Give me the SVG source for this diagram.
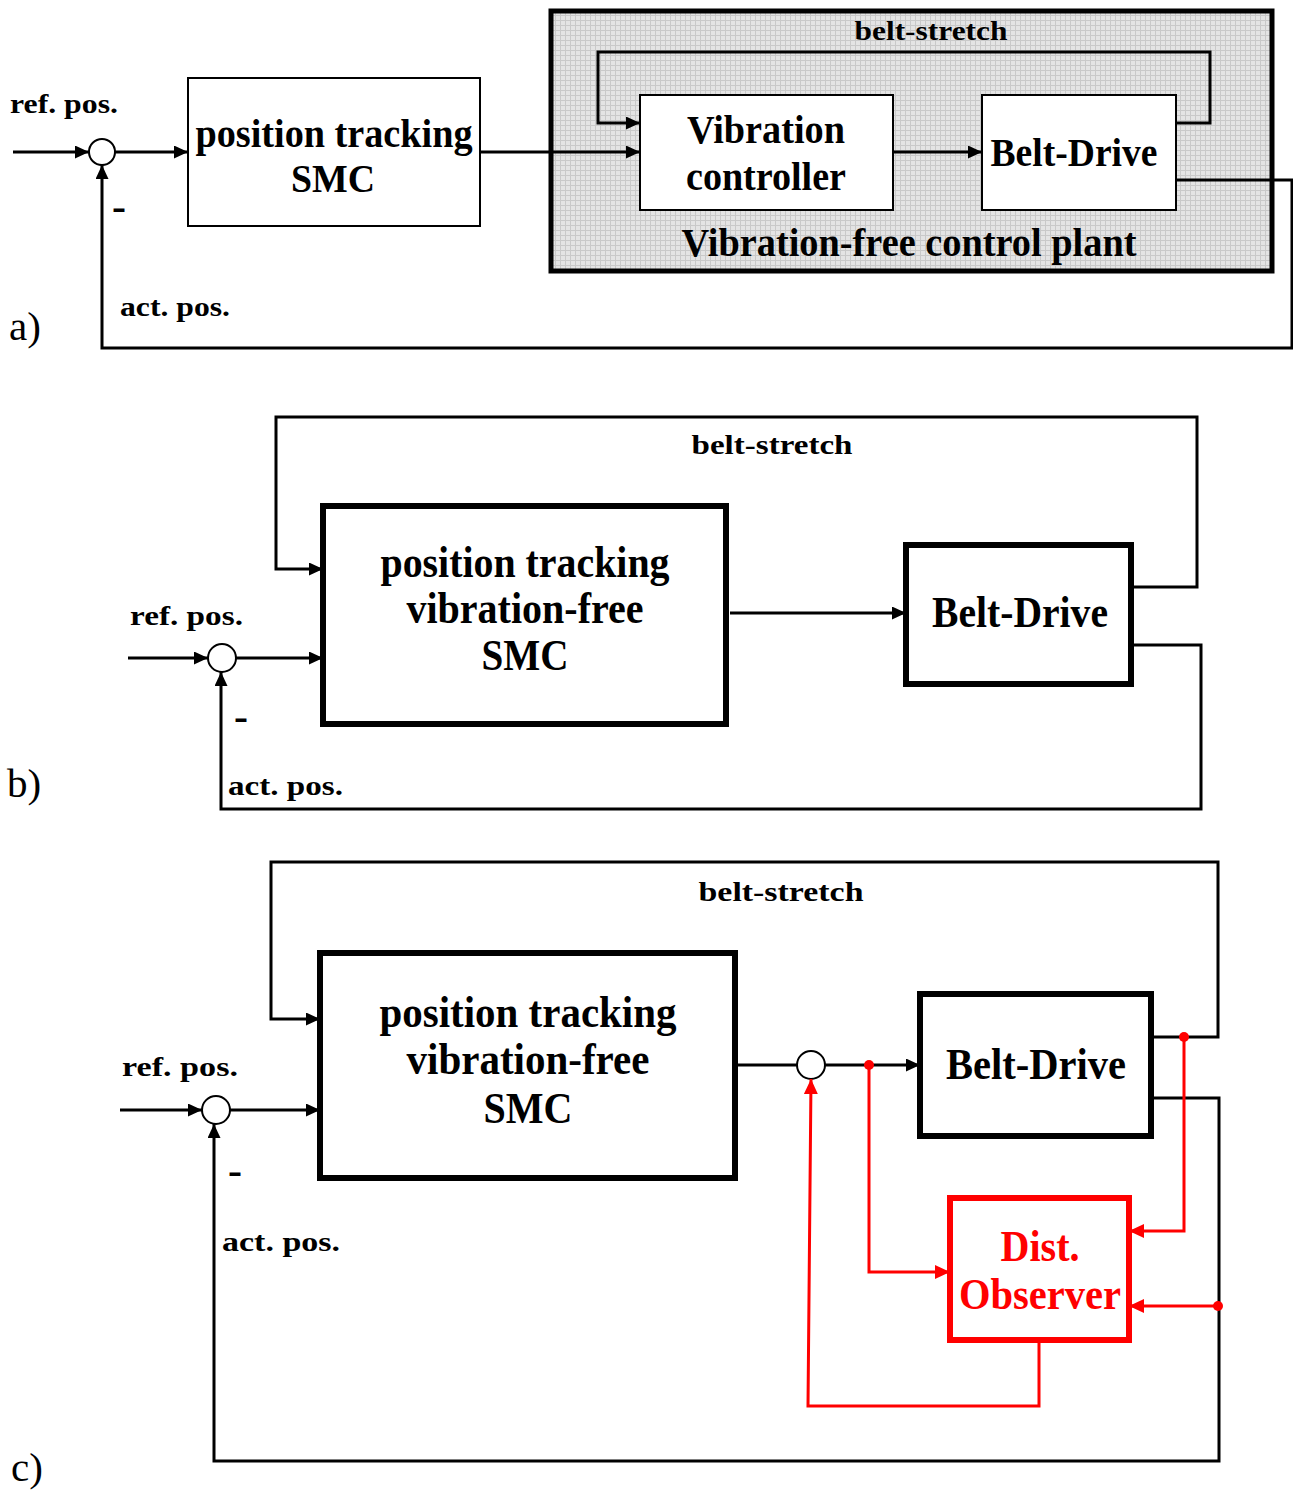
<svg xmlns="http://www.w3.org/2000/svg" width="1293" height="1490" viewBox="0 0 1293 1490">
<style>
text{font-weight:bold;fill:#000}
.lbl{font-size:28px}
.dash{font-size:42px}
.big{font-size:40px}
.big2{font-size:44px}
.mid{text-anchor:middle}
.tag{font-weight:normal;font-size:41px}
.red{fill:#ff0000}
.ln{fill:none;stroke:#000;stroke-width:3}
.rl{fill:none;stroke:#ff0000;stroke-width:3}
.box{fill:#fff;stroke:#000;stroke-width:2}
.tbox{fill:#fff;stroke:#000;stroke-width:6}
.rbox{fill:#fff;stroke:#ff0000;stroke-width:6}
.sum{fill:#fff;stroke:#000;stroke-width:2}
</style>
<defs>
<marker id="ah" markerUnits="userSpaceOnUse" markerWidth="14" markerHeight="13" refX="14" refY="6.5" orient="auto"><path d="M0,0 L14,6.5 L0,13 z" fill="#000"/></marker>
<marker id="rah" markerUnits="userSpaceOnUse" markerWidth="15" markerHeight="14" refX="15" refY="7" orient="auto"><path d="M0,0 L15,7 L0,14 z" fill="#ff0000"/></marker>
<pattern id="grid" width="5" height="5" patternUnits="userSpaceOnUse"><rect width="5" height="5" fill="#e4e4e4"/><path d="M0,0.5 H5 M0.5,0 V5" stroke="#c9c9c9" stroke-width="1"/></pattern>
</defs>

<!-- ===== a) ===== -->
<g id="a-plant"><rect x="551" y="11" width="721" height="260" fill="url(#grid)" stroke="#000" stroke-width="5"/>
<text font-family="Liberation Serif" class="big mid" x="909" y="256" textLength="455" lengthAdjust="spacingAndGlyphs">Vibration-free control plant</text></g>
<g id="a-smc"><rect class="box" x="188" y="78" width="292" height="148"/>
<text font-family="Liberation Serif" class="big mid" x="334" y="147" textLength="277" lengthAdjust="spacingAndGlyphs">position tracking</text>
<text font-family="Liberation Serif" class="big mid" x="333" y="192" textLength="84" lengthAdjust="spacingAndGlyphs">SMC</text></g>
<g id="a-vc"><rect class="box" x="640" y="95" width="253" height="115"/>
<text font-family="Liberation Serif" class="big mid" x="766" y="143" textLength="158" lengthAdjust="spacingAndGlyphs">Vibration</text>
<text font-family="Liberation Serif" class="big mid" x="766" y="190" textLength="160" lengthAdjust="spacingAndGlyphs">controller</text></g>
<g id="a-bd"><rect class="box" x="982" y="95" width="194" height="115"/>
<text font-family="Liberation Serif" class="big mid" x="1074" y="166" textLength="167" lengthAdjust="spacingAndGlyphs">Belt-Drive</text></g>
<g id="a-sum"><circle class="sum" cx="102" cy="152" r="13"/></g>
<g id="a-connectors">
<path class="ln" d="M13,152 H89" marker-end="url(#ah)"/>
<path class="ln" d="M115,152 H188" marker-end="url(#ah)"/>
<path class="ln" d="M480,152 H640" marker-end="url(#ah)"/>
<path class="ln" d="M893,152 H982" marker-end="url(#ah)"/>
<path class="ln" d="M1176,123 H1210 V52 H598 V123 H640" marker-end="url(#ah)"/>
<path class="ln" d="M1176,180 H1292 V348 H102 V165" marker-end="url(#ah)"/>
</g>
<g id="a-labels">
<text font-family="Liberation Serif" class="lbl" x="10" y="113" textLength="108" lengthAdjust="spacingAndGlyphs">ref. pos.</text>
<text font-family="Liberation Serif" class="lbl mid" x="931" y="40" textLength="153" lengthAdjust="spacingAndGlyphs">belt-stretch</text>
<text font-family="Liberation Serif" class="dash" x="112" y="220">-</text>
<text font-family="Liberation Serif" class="lbl" x="120" y="316" textLength="110" lengthAdjust="spacingAndGlyphs">act. pos.</text>
<text font-family="Liberation Serif" class="tag" x="9" y="340">a)</text>
</g>

<!-- ===== b) ===== -->
<g id="b-smc"><rect class="tbox" x="323" y="506" width="403" height="218"/>
<text font-family="Liberation Serif" class="big2 mid" x="525" y="577" textLength="289" lengthAdjust="spacingAndGlyphs">position tracking</text>
<text font-family="Liberation Serif" class="big2 mid" x="525" y="623" textLength="237" lengthAdjust="spacingAndGlyphs">vibration-free</text>
<text font-family="Liberation Serif" class="big2 mid" x="525" y="670" textLength="87" lengthAdjust="spacingAndGlyphs">SMC</text></g>
<g id="b-bd"><rect class="tbox" x="906" y="545" width="225" height="139"/>
<text font-family="Liberation Serif" class="big2 mid" x="1020" y="627" textLength="176" lengthAdjust="spacingAndGlyphs">Belt-Drive</text></g>
<g id="b-sum"><circle class="sum" cx="222" cy="658" r="14"/></g>
<g id="b-connectors">
<path class="ln" d="M128,658 H208" marker-end="url(#ah)"/>
<path class="ln" d="M236,658 H323" marker-end="url(#ah)"/>
<path class="ln" d="M730,613 H906" marker-end="url(#ah)"/>
<path class="ln" d="M1131,587 H1197 V417 H276 V569 H323" marker-end="url(#ah)"/>
<path class="ln" d="M1131,645 H1201 V809 H221 V672" marker-end="url(#ah)"/>
</g>
<g id="b-labels">
<text font-family="Liberation Serif" class="lbl" x="130" y="625" textLength="113" lengthAdjust="spacingAndGlyphs">ref. pos.</text>
<text font-family="Liberation Serif" class="lbl mid" x="772" y="454" textLength="161" lengthAdjust="spacingAndGlyphs">belt-stretch</text>
<text font-family="Liberation Serif" class="dash" x="234" y="730">-</text>
<text font-family="Liberation Serif" class="lbl" x="228" y="795" textLength="115" lengthAdjust="spacingAndGlyphs">act. pos.</text>
<text font-family="Liberation Serif" class="tag" x="7" y="797">b)</text>
</g>

<!-- ===== c) ===== -->
<g id="c-smc"><rect class="tbox" x="320" y="953" width="415" height="225"/>
<text font-family="Liberation Serif" class="big2 mid" x="528" y="1027" textLength="297" lengthAdjust="spacingAndGlyphs">position tracking</text>
<text font-family="Liberation Serif" class="big2 mid" x="528" y="1074" textLength="243" lengthAdjust="spacingAndGlyphs">vibration-free</text>
<text font-family="Liberation Serif" class="big2 mid" x="528" y="1123" textLength="89" lengthAdjust="spacingAndGlyphs">SMC</text></g>
<g id="c-bd"><rect class="tbox" x="920" y="994" width="231" height="142"/>
<text font-family="Liberation Serif" class="big2 mid" x="1036" y="1079" textLength="180" lengthAdjust="spacingAndGlyphs">Belt-Drive</text></g>
<g id="c-obs"><rect class="rbox" x="950" y="1198" width="179" height="142"/>
<text font-family="Liberation Serif" class="big2 mid red" x="1040" y="1261" textLength="79" lengthAdjust="spacingAndGlyphs">Dist.</text>
<text font-family="Liberation Serif" class="big2 mid red" x="1040" y="1309" textLength="162" lengthAdjust="spacingAndGlyphs">Observer</text></g>
<g id="c-sum1"><circle class="sum" cx="216" cy="1110" r="14"/></g>
<g id="c-sum2"><circle class="sum" cx="811" cy="1065" r="14"/></g>
<g id="c-connectors">
<path class="ln" d="M120,1110 H202" marker-end="url(#ah)"/>
<path class="ln" d="M230,1110 H320" marker-end="url(#ah)"/>
<path class="ln" d="M738,1065 H797"/>
<path class="ln" d="M825,1065 H920" marker-end="url(#ah)"/>
<path class="ln" d="M1151,1037 H1218 V862 H271 V1019 H320" marker-end="url(#ah)"/>
<path class="ln" d="M1151,1098 H1219 V1461 H214 V1124" marker-end="url(#ah)"/>
<path class="rl" d="M869,1065 V1272 H950" marker-end="url(#rah)"/>
<path class="rl" d="M1184,1037 V1231 H1129" marker-end="url(#rah)"/>
<path class="rl" d="M1218,1306 H1129" marker-end="url(#rah)"/>
<path class="rl" d="M1039,1340 V1406 H808 L811,1079" marker-end="url(#rah)"/>
<circle cx="869" cy="1065" r="5" fill="#ff0000"/>
<circle cx="1184" cy="1037" r="5" fill="#ff0000"/>
<circle cx="1218" cy="1306" r="5" fill="#ff0000"/>
</g>
<g id="c-labels">
<text font-family="Liberation Serif" class="lbl" x="122" y="1076" textLength="116" lengthAdjust="spacingAndGlyphs">ref. pos.</text>
<text font-family="Liberation Serif" class="lbl mid" x="781" y="901" textLength="165" lengthAdjust="spacingAndGlyphs">belt-stretch</text>
<text font-family="Liberation Serif" class="dash" x="228" y="1184">-</text>
<text font-family="Liberation Serif" class="lbl" x="222" y="1251" textLength="118" lengthAdjust="spacingAndGlyphs">act. pos.</text>
<text font-family="Liberation Serif" class="tag" x="11" y="1481">c)</text>
</g>
</svg>
